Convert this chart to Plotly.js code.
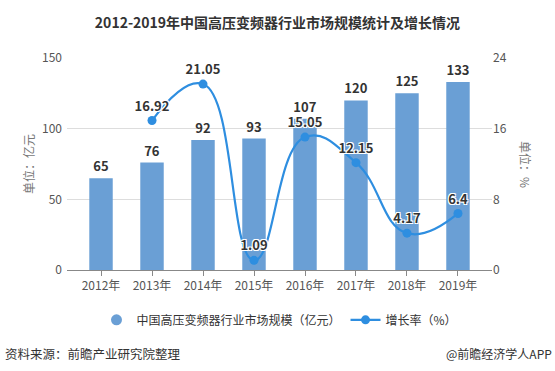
<!DOCTYPE html>
<html>
<head>
<meta charset="utf-8">
<script src="https://cdn.plot.ly/plotly-3.0.1.min.js"></script>
<style>
html,body{margin:0;padding:0;background:#fff;}
#chart{width:555px;height:371px;}
</style>
</head>
<body>
<div id="chart"></div>
<script>
var years = ["2012年","2013年","2014年","2015年","2016年","2017年","2018年","2019年"];
var marketSize = [65, 76, 92, 93, 107, 120, 125, 133];
var growthYears = ["2013年","2014年","2015年","2016年","2017年","2018年","2019年"];
var growthRate = [16.92, 21.05, 1.09, 15.05, 12.15, 4.17, 6.4];
var leftTicks = [0, 50, 100, 150];
var rightTicks = [0, 8, 16, 24];

var FONT = "'Microsoft YaHei','Noto Sans CJK SC','Noto Sans',sans-serif";
var halo = "1px 1px 0 #fff, -1px -1px 0 #fff, 1px -1px 0 #fff, -1px 1px 0 #fff";
var BAR_COLOR = '#6a9fd5';

var bars = {
  type: 'bar',
  x: years,
  y: marketSize,
  name: '中国高压变频器行业市场规模（亿元）',
  marker: {color: BAR_COLOR},
  width: 0.46,
  text: marketSize.map(String),
  textposition: 'outside',
  cliponaxis: false,
  textfont: {family: FONT, size: 13, color: '#333', weight: 'bold'},
  showlegend: false,
  hoverinfo: 'none'
};
var barLegend = {
  type: 'scatter', mode: 'markers',
  x: [null], y: [null],
  name: '中国高压变频器行业市场规模（亿元）',
  marker: {color: BAR_COLOR, size: 11, symbol: 'circle'},
  hoverinfo: 'none'
};
var line = {
  type: 'scatter',
  mode: 'lines+markers+text',
  x: growthYears,
  y: growthRate,
  yaxis: 'y2',
  name: '增长率（%）',
  line: {color: '#2e8ee0', width: 2.2, shape: 'spline', smoothing: 1.3},
  marker: {color: '#2e8ee0', size: 9},
  text: growthRate.map(String),
  textposition: 'top center',
  cliponaxis: false,
  textfont: {family: FONT, size: 13, color: '#333', weight: 'bold', shadow: halo},
  hoverinfo: 'none'
};

var layout = {
  width: 555, height: 371,
  margin: {l: 67, r: 63, t: 58, b: 101},
  paper_bgcolor: '#fff', plot_bgcolor: '#fff',
  font: {family: FONT, color: '#555', size: 12},
  title: {text: '2012-2019年中国高压变频器行业市场规模统计及增长情况', x: 0.5, xanchor: 'center', y: 0.95,
          font: {family: FONT, size: 14, color: '#333', weight: 'bold'}},
  showlegend: true,
  legend: {orientation: 'h', x: 0.5, xanchor: 'center', y: -0.235, yanchor: 'middle',
           font: {family: FONT, size: 12, color: '#333'}, itemwidth: 30, traceorder: 'normal'},
  xaxis: {
    type: 'category', range: [-0.667, 7.667],
    showgrid: false, showline: true, linecolor: '#888', linewidth: 1,
    ticks: 'outside', ticklen: 5, tickcolor: '#888',
    tickfont: {family: FONT, size: 12, color: '#555'}, fixedrange: true
  },
  yaxis: {
    range: [0, 150], tickvals: leftTicks, ticktext: leftTicks.map(String),
    showgrid: true, gridcolor: '#ddd', zeroline: false, showline: false,
    ticks: '', ticklabelstandoff: 4,
    tickfont: {family: FONT, size: 12, color: '#555'},
    title: {text: '单位：亿元', font: {family: FONT, size: 12, color: '#777'}, standoff: 4}
  },
  yaxis2: {
    overlaying: 'y', side: 'right', range: [0, 24],
    tickvals: rightTicks, ticktext: rightTicks.map(String),
    showgrid: false, zeroline: false, showline: false, ticks: '',
    tickfont: {family: FONT, size: 12, color: '#555'}
  },
  annotations: [
    {text: '单位：%', xref: 'paper', yref: 'paper', x: 1.105, y: 0.5, showarrow: false,
     textangle: 90, font: {family: FONT, size: 12, color: '#777'}},
    {text: '资料来源：前瞻产业研究院整理', xref: 'paper', yref: 'paper', x: -0.15, xanchor: 'left',
     y: -0.395, yanchor: 'middle', showarrow: false, font: {family: FONT, size: 12.5, color: '#333'}},
    {text: '@前瞻经济学人APP', xref: 'paper', yref: 'paper', x: 1.145, xanchor: 'right',
     y: -0.395, yanchor: 'middle', showarrow: false, font: {family: FONT, size: 12, color: '#333'}}
  ]
};

Plotly.newPlot('chart', [bars, barLegend, line], layout, {displayModeBar: false, staticPlot: true});
</script>
</body>
</html>
